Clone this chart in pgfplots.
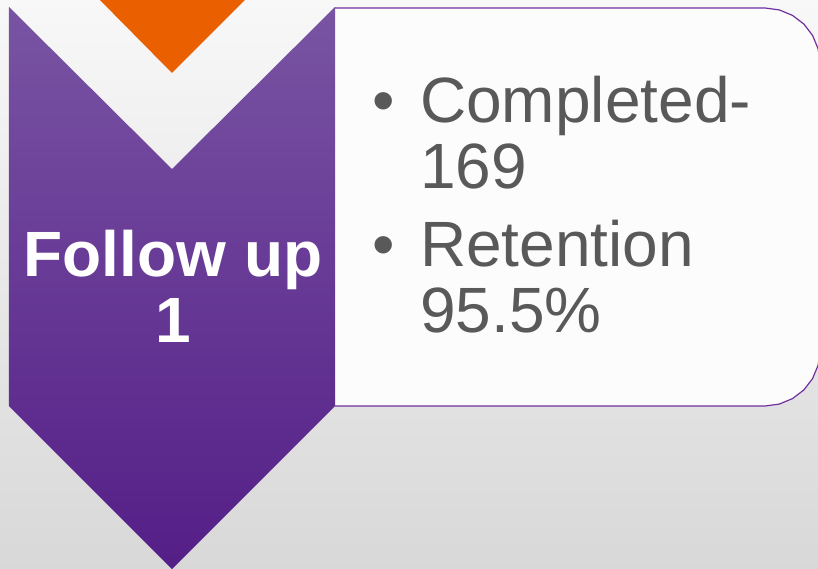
\documentclass[border=0pt]{standalone}
\usepackage{pgfplots}
\pgfplotsset{compat=1.18}
\usepackage{fontspec}
\setmainfont{Liberation Sans}
\definecolor{bgtop}{RGB}{248,248,248}
\definecolor{bgbot}{RGB}{216,216,216}
\definecolor{purtop}{RGB}{121,84,163}
\definecolor{purbot}{RGB}{84,30,135}
\definecolor{orng}{RGB}{234,96,0}
\definecolor{edge}{RGB}{112,48,160}
\definecolor{txt}{RGB}{89,89,89}
\begin{document}
\begin{tikzpicture}
\begin{axis}[
  scale only axis, width=818pt, height=569pt,
  xmin=0, xmax=818, ymin=0, ymax=569, y dir=reverse,
  enlargelimits=false, hide axis, clip=true,
]
% background
\addplot[draw=none, top color=bgtop, bottom color=bgbot] coordinates {(-2,-2) (820,-2) (820,571) (-2,571) (-2,-2)};
% orange chevron tip
\addplot[draw=none, fill=orng] coordinates {(93,-7) (252,-7) (172,73) (93,-7)};
% white rounded box
\addplot[draw=edge, line width=1.2pt, fill=white!99!black] coordinates {
  (335,8) (765,8) (779.2,9.9) (792.5,15.4) (803.9,24.1) (812.6,35.5) (818.1,48.8) (820,63)
  (820,351) (818.1,365.2) (812.6,378.5) (803.9,389.9) (792.5,398.6) (779.2,404.1) (765,406)
  (335,406)};
% purple chevron
\addplot[draw=none, top color=purtop, bottom color=purbot] coordinates {
  (9,7) (172,169) (335,7) (335,406) (172,569) (9,406) (9,7)};
\node[anchor=base, inner sep=0, text=white, font=\fontsize{64}{64}\selectfont\bfseries] at (axis cs:173,276) {Follow up};
\node[anchor=base, inner sep=0, text=white, font=\fontsize{64}{64}\selectfont\bfseries] at (axis cs:173,342) {1};
\node[anchor=base west, inner sep=0, text=txt, font=\fontsize{64}{64}\selectfont] at (axis cs:372,123) {•};
\node[anchor=base west, inner sep=0, text=txt, font=\fontsize{64}{64}\selectfont] at (axis cs:420,123) {Completed-};
\node[anchor=base west, inner sep=0, text=txt, font=\fontsize{64}{64}\selectfont] at (axis cs:420,189) {169};
\node[anchor=base west, inner sep=0, text=txt, font=\fontsize{64}{64}\selectfont] at (axis cs:372,266) {•};
\node[anchor=base west, inner sep=0, text=txt, font=\fontsize{64}{64}\selectfont] at (axis cs:420,266) {Retention};
\node[anchor=base west, inner sep=0, text=txt, font=\fontsize{64}{64}\selectfont] at (axis cs:420,332) {95.5\%};
\end{axis}
\end{tikzpicture}
\end{document}
